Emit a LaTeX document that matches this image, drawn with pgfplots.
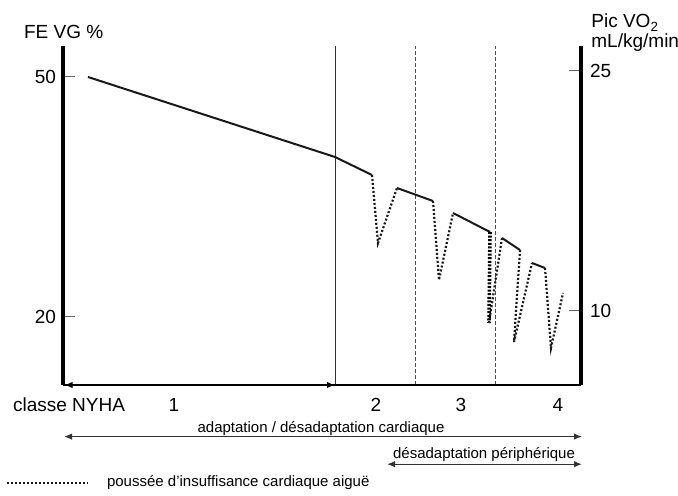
\documentclass[border=0pt]{standalone}
\usepackage{pgfplots}
\pgfplotsset{compat=1.18}
\usepackage{fontspec}
\setmainfont{Liberation Sans}
\usetikzlibrary{arrows.meta}
\newcommand{\bigf}{\fontsize{9.5}{11}\selectfont}
\newcommand{\smf}{\fontsize{7.5}{9}\selectfont}
\begin{document}
\begin{tikzpicture}[x=1pt,y=1pt]
\useasboundingbox (-31.5,-55.5) rectangle (307.5,192.5);
% right axis (Pic VO2)
\begin{axis}[
  at={(0,0)}, anchor=south west,
  scale only axis, width=259pt, height=169.5pt,
  xmin=63, xmax=581, ymin=5.375, ymax=26.5625,
  axis x line=none,
  axis y line*=right,
  y axis line style={line width=1.6pt, -},
  ytick={10,25}, tick align=inside, major tick length=6pt,
  tick style={line width=0.5pt, black!60},
  yticklabel style={font=\bigf, xshift=1pt},
  /pgf/number format/assume math mode=true,
]
\addplot[draw=none] coordinates {(63,10) (581,10)};
\end{axis}
% main axis (FE VG %)
\begin{axis}[
  at={(0,0)}, anchor=south west,
  scale only axis, width=259pt, height=169.5pt,
  xmin=63, xmax=581, ymin=11.5, ymax=53.875,
  axis x line=none,
  axis y line*=left,
  y axis line style={line width=1.6pt, -},
  ytick={20,50}, tick align=inside, major tick length=6pt,
  tick style={line width=0.5pt, black!60},
  yticklabel style={font=\bigf},
  /pgf/number format/assume math mode=true,
  clip=false,
]
% reference lines
\draw[line width=0.5pt, black!80] (axis cs:335,11.5) -- (axis cs:335,53.875);
\draw[line width=0.4pt, black!70, dash pattern=on 2pt off 1pt] (axis cs:415,11.5) -- (axis cs:415,53.875);
\draw[line width=0.4pt, black!70, dash pattern=on 2pt off 1pt] (axis cs:495,11.5) -- (axis cs:495,53.875);
% solid segments
\addplot[line width=1pt, black!90] coordinates {(88,50.0) (335,40.0) (372,37.75)};
\addplot[line width=1pt, black!90] coordinates {(397,36.125) (433,34.5)};
\addplot[line width=1pt, black!90] coordinates {(453,33.0) (490,30.625)};
\addplot[line width=1pt, black!90] coordinates {(502,29.875) (520,28.375)};
\addplot[line width=1pt, black!90] coordinates {(532,26.75) (545,26.125)};
% dotted segments (acute decompensation)
\addplot[line width=1.1pt, black!90, dash pattern=on 1pt off 1pt] coordinates {(372,37.75) (378,29.25) (397,36.125)};
\addplot[line width=1.1pt, black!90, dash pattern=on 1pt off 1pt] coordinates {(433,34.5) (439,24.625) (453,33.0)};
\addplot[line width=1.8pt, black, dash pattern=on 1pt off 0.8pt] coordinates {(490,30.625) (489,19.25)};
\addplot[line width=1.1pt, black!90, dash pattern=on 1pt off 1pt] coordinates {(489,19.25) (502,29.875)};
\addplot[line width=1.1pt, black!90, dash pattern=on 1pt off 1pt] coordinates {(520,28.375) (514,16.875) (532,26.75)};
\addplot[line width=1.1pt, black!90, dash pattern=on 1pt off 1pt] coordinates {(545,26.125) (551,16.125) (563,23.0)};
% bottom line and NYHA arrow
\draw[line width=0.6pt] (axis cs:63,11.5) -- (axis cs:581,11.5);
\draw[line width=0.6pt, {Latex[length=4pt,width=3.2pt]}-{Latex[length=4pt,width=3.2pt]}] (axis cs:64.5,11.5) -- (axis cs:335,11.5);
% axis titles
\node[font=\bigf, anchor=west] at (axis cs:17,55.6) {FE VG \%};
\node[font=\bigf, anchor=north west, align=left, inner sep=0pt] at (axis cs:591,57.9) {Pic VO\textsubscript{2}\\[-1pt]mL/kg/min};
% NYHA classes
\node[font=\bigf] at (axis cs:69,9.0) {classe NYHA};
\node[font=\bigf] at (axis cs:174,9.0) {1};
\node[font=\bigf] at (axis cs:376,9.0) {2};
\node[font=\bigf] at (axis cs:461,9.0) {3};
\node[font=\bigf] at (axis cs:558,9.0) {4};
% adaptation arrows
\node[font=\smf] at (axis cs:321,6.1) {adaptation / désadaptation cardiaque};
\draw[line width=0.6pt, black!80, {Latex[length=4pt,width=3.2pt]}-{Latex[length=4pt,width=3.2pt]}] (axis cs:64,5.05) -- (axis cs:582,5.05);
\node[font=\smf] at (axis cs:484,2.75) {désadaptation périphérique};
\draw[line width=0.6pt, black!80, {Latex[length=4pt,width=3.2pt]}-{Latex[length=4pt,width=3.2pt]}] (axis cs:387,1.6) -- (axis cs:582,1.6);
% legend
\draw[line width=1.1pt, black!90, dash pattern=on 1pt off 1pt] (axis cs:7,-0.75) -- (axis cs:88,-0.75);
\node[font=\smf, anchor=west] at (axis cs:100,-0.75) {poussée d'insuffisance cardiaque aiguë};
\end{axis}
\end{tikzpicture}
\end{document}
